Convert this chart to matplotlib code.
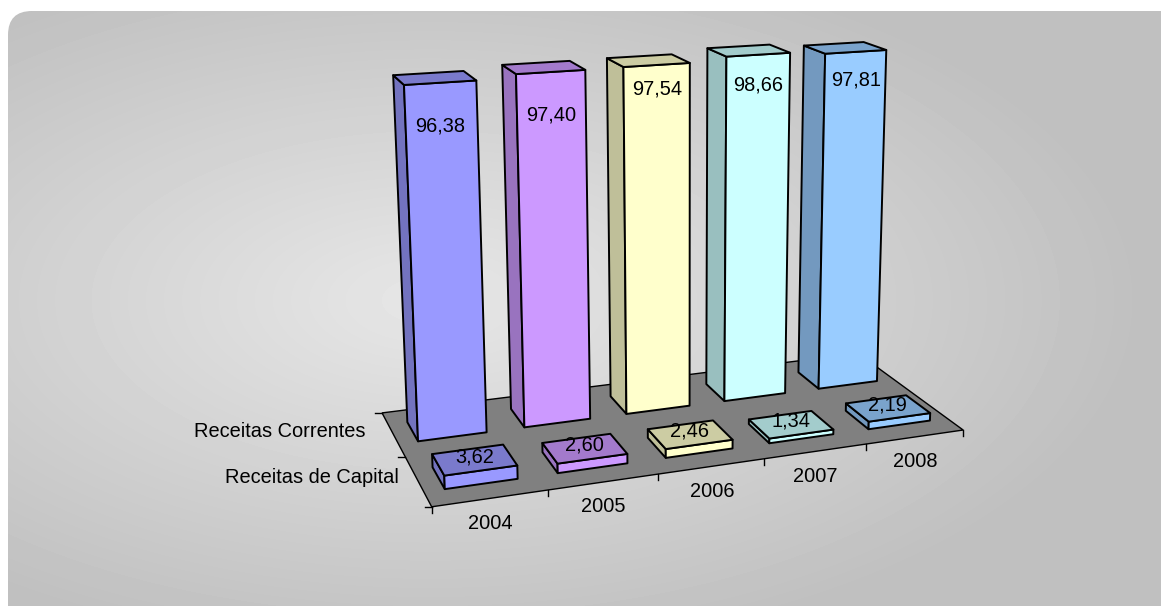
import numpy as np
import matplotlib
matplotlib.use('Agg')
import matplotlib.pyplot as plt
from matplotlib.patches import Polygon, FancyBboxPatch

years = ['2004', '2005', '2006', '2007', '2008']
series = ['Receitas de Capital', 'Receitas Correntes']
capital = [3.62, 2.60, 2.46, 1.34, 2.19]
correntes = [96.38, 97.40, 97.54, 98.66, 97.81]
colors = ['#9999FF', '#CC99FF', '#FFFFCC', '#CCFFFF', '#99CCFF']

W, H = 1161, 606
GAP = 0.18      # gap on each side of a bar inside a category
INSET = 0.28    # depth inset of a bar inside its row

# 3d view: world (x=category, y=row, z=value) -> pixel coordinates
P = np.array([
    [1.28528435e+02, 2.25323477e+00, -3.88973621e-01, 4.31680155e+02],
    [-5.42927568e+00, -1.76818913e+01, -4.09659196e+00, 5.06795151e+02],
    [2.30794935e-02, 7.08696103e-02, -5.67973370e-04, 1.00000000e+00],
])


def proj(x, y, z):
    h = P @ np.array([x, y, z, 1.0])
    return h[0] / h[2], h[1] / h[2]


def shade(c, f):
    rgb = np.array(matplotlib.colors.to_rgb(c))
    return tuple(rgb * f)


fig = plt.figure(figsize=(W / 100, H / 100), dpi=100)
ax = fig.add_axes([0, 0, 1, 1])
ax.set_xlim(0, W)
ax.set_ylim(H, 0)
ax.axis('off')

# background panel with radial gradient
yy, xx = np.mgrid[0:H, 0:W]
r = np.sqrt(((xx - 430) / 720.0) ** 2 + ((yy - 300) / 360.0) ** 2)
grad = 0.905 - 0.155 * np.clip(r, 0, 1)
panel = FancyBboxPatch((8, 11), W + 40, H + 40, boxstyle='round,pad=0,rounding_size=24',
                       fc='none', ec='none')
ax.add_patch(panel)
im = ax.imshow(grad, cmap='gray', vmin=0, vmax=1, extent=(0, W, H, 0), zorder=0)
im.set_clip_path(panel)

lw = 1.4
n = len(years)

# floor
floor = [proj(0, 0, 0), proj(n, 0, 0), proj(n, 2, 0), proj(0, 2, 0)]
ax.add_patch(Polygon(floor, closed=True, fc='#808080', ec='black', lw=1.0, zorder=1))

# ticks
for i in range(n + 1):
    x0, y0 = proj(i, 0, 0)
    ax.plot([x0, x0], [y0, y0 + 6], color='black', lw=1.0, zorder=1)
for j in range(3):
    x0, y0 = proj(0, j, 0)
    ax.plot([x0, x0 - 7], [y0, y0], color='black', lw=1.0, zorder=1)


def box(i, row, val, col, z):
    x0, x1 = i + GAP, i + 1 - GAP
    y0, y1 = row + INSET, row + 1 - INSET
    left = [proj(x0, y0, 0), proj(x0, y1, 0), proj(x0, y1, val), proj(x0, y0, val)]
    front = [proj(x0, y0, 0), proj(x1, y0, 0), proj(x1, y0, val), proj(x0, y0, val)]
    top = [proj(x0, y0, val), proj(x1, y0, val), proj(x1, y1, val), proj(x0, y1, val)]
    for poly, f in ((left, 0.75), (front, 1.0), (top, 0.8)):
        ax.add_patch(Polygon(poly, closed=True, fc=shade(col, f), ec='black', lw=lw,
                             joinstyle='round', zorder=z))


fs = 14.4
font = 'Liberation Sans'
label_drop = [43, 43, 24, 30, 28]

# back row (Receitas Correntes), right to left
for i in reversed(range(n)):
    box(i, 1, correntes[i], colors[i], 2 + (n - i) * 0.01)
    tx, ty = proj(i + 0.5, 1 + INSET, correntes[i])
    ax.text(tx, ty + label_drop[i], f'{correntes[i]:.2f}'.replace('.', ','),
            ha='center', va='center', fontsize=fs, family=font, zorder=3)

# front row (Receitas de Capital), right to left
for i in reversed(range(n)):
    box(i, 0, capital[i], colors[i], 4 + (n - i) * 0.01)
    tx, ty = proj(i + 0.5, 0.5, capital[i])
    ax.text(tx, ty - 3, f'{capital[i]:.2f}'.replace('.', ','),
            ha='center', va='center', fontsize=fs, family=font, zorder=5)

# category labels
for i in range(n):
    tx, ty = proj(i + 0.5, 0, 0)
    ax.text(tx, ty + 25, years[i], ha='center', va='center', fontsize=fs, family=font)

# series labels
series_gap = [19, 28]
for j, name in enumerate(series):
    tx, ty = proj(0, j + 0.5, 0)
    ax.text(tx - series_gap[j], ty - 3, name, ha='right', va='center',
            fontsize=fs, family=font)

fig.savefig('out.png', dpi=100)
